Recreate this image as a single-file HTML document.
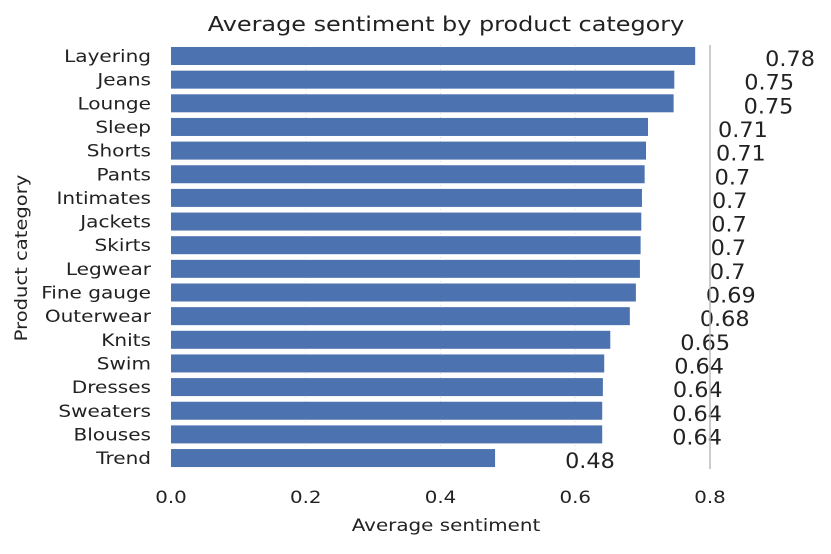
<!DOCTYPE html>
<html><head><meta charset="utf-8"><style>
body{margin:0;background:#fff;}
svg text{font-family:"DejaVu Sans","Liberation Sans",sans-serif;}
</style></head><body>
<svg id="chart" width="831" height="549">
<text transform="translate(446,31) scale(1.15,1)" text-anchor="middle" font-size="20.8" fill="#222">Average sentiment by product category</text>
<g id="grid"></g><g id="bars"></g><g id="labels"></g><g id="ylabels"></g><g id="xticks"></g>
<line x1="710" y1="45" x2="710" y2="469" stroke="#bbb" stroke-width="1.5"/>
<text transform="translate(446,531) scale(1.17,1)" text-anchor="middle" font-size="17" fill="#222">Average sentiment</text>
<text transform="translate(27,258) rotate(-90) scale(1.15,1)" text-anchor="middle" font-size="17" fill="#222">Product category</text>
</svg>
<script>
const categories=["Layering","Jeans","Lounge","Sleep","Shorts","Pants","Intimates","Jackets","Skirts","Legwear","Fine gauge","Outerwear","Knits","Swim","Dresses","Sweaters","Blouses","Trend"];
const values=[0.778,0.747,0.746,0.708,0.705,0.703,0.699,0.698,0.697,0.696,0.69,0.681,0.652,0.643,0.641,0.64,0.64,0.481];
const xTicks=[0,0.2,0.4,0.6,0.8];
const NS="http://www.w3.org/2000/svg";
const x=v=>171+v*673.75;
const y=i=>56+i*23.65;
function mk(t,a,p){const e=document.createElementNS(NS,t);for(const k in a)e.setAttribute(k,a[k]);p.appendChild(e);return e;}
const g=document.getElementById('grid'),b=document.getElementById('bars'),l=document.getElementById('labels'),yl=document.getElementById('ylabels'),xt=document.getElementById('xticks');
xTicks.forEach(t=>{
 if(t>0&&t<0.8){const ln=mk('line',{x1:x(t),x2:x(t),y1:45,y2:469,stroke:'#ddd','stroke-dasharray':'1,3'},g);
 
 }
 const tx=mk('text',{transform:`translate(${x(t)},503) scale(1.2,1)`,'text-anchor':'middle','font-size':'16.5',fill:'#222'},xt);
 tx.textContent=t.toFixed(1);
 
 
});
categories.forEach((c,i)=>{
 const r=mk('rect',{x:x(0),y:y(i)-9,width:x(values[i])-x(0),height:18,fill:'#4c72b0'},b);
 
 
 const lt=mk('text',{transform:`translate(${x(values[i])+70},${y(i)+10}) scale(1.05,1)`,'font-size':'21.3',fill:'#222'},l);
 lt.textContent=String(Math.round(values[i]*100)/100);
 
 
 const ct=mk('text',{transform:`translate(151,${y(i)+6}) scale(1.18,1)`,'text-anchor':'end','font-size':'17',fill:'#222'},yl);
 ct.textContent=c;
 
 
});
</script>
</body></html>
